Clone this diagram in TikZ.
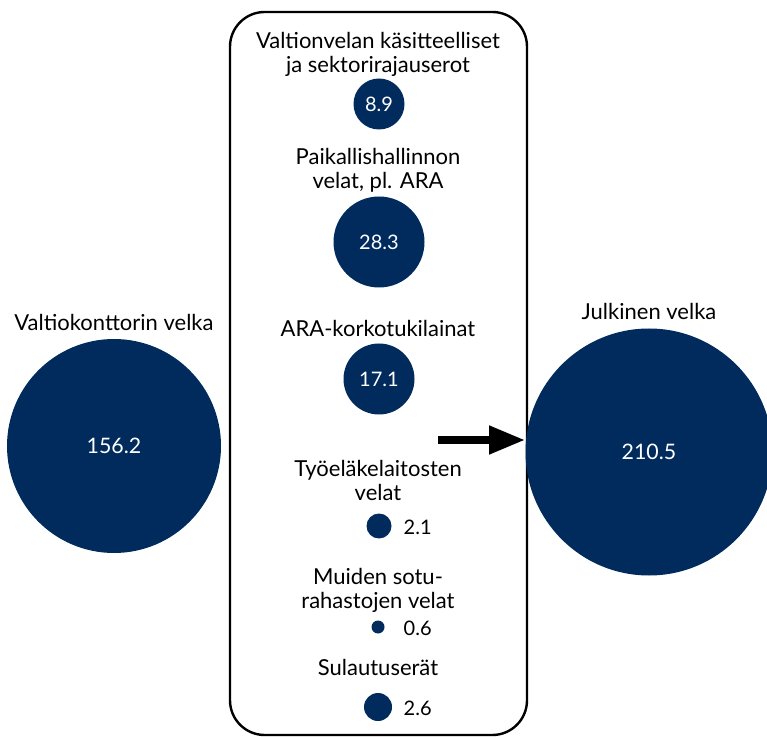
\documentclass[tikz,border=0pt]{standalone}
\usepackage{fontspec}
\setmainfont{Lato}
\usetikzlibrary{arrows.meta}
\definecolor{navy}{RGB}{0,43,92}
\tikzset{
  debt/.style={circle, fill=navy, draw=none, inner sep=0pt, text=white},
  lbl/.style={align=center, font=\fontsize{16.5}{18}\selectfont},
  val/.style={font=\fontsize{15}{16}\selectfont}
}
\begin{document}
\begin{tikzpicture}[x=0.75pt, y=-0.75pt]
  \useasboundingbox (0,0) rectangle (767,737);
  \draw[line width=1.8pt, rounded corners=26pt] (230,12) rectangle (527,735);
  % sides
  \node[debt, minimum size=160.5pt, font=\fontsize{16}{18}\selectfont](vk) at (114,446){156.2};
  \node[lbl](vklbl) at (114,322){Valtiokonttorin velka};
  \node[debt, minimum size=185.25pt, font=\fontsize{16}{18}\selectfont](julk) at (649,452){210.5};
  \node[lbl](julklbl) at (649,311){Julkinen velka};
  % middle column
  \node[lbl](t1) at (378,54){Valtionvelan käsitteelliset\\ja sektorirajauserot};
  \node[debt, minimum size=38.25pt, val](c1) at (379,104){8.9};
  \node[lbl](t2) at (378,170){Paikallishallinnon\\velat, pl. ARA};
  \node[debt, minimum size=68.25pt, val](c2) at (379,242){28.3};
  \node[lbl](t3) at (378,328){ARA-korkotukilainat};
  \node[debt, minimum size=53.25pt, val](c3) at (379,379){17.1};
  \node[lbl](t4) at (378,480){Työeläkelaitosten\\velat};
  \node[debt, minimum size=18.75pt](c4) at (379,526){};
  \node[val, anchor=west](v4) at (399,527){2.1};
  \node[lbl](t5) at (378,590){Muiden sotu-\\rahastojen velat};
  \node[debt, minimum size=9.75pt](c5) at (378,627){};
  \node[val, anchor=west](v5) at (399,628){0.6};
  \node[lbl](t6) at (378,667){Sulautuserät};
  \node[debt, minimum size=21pt](c6) at (378,707){};
  \node[val, anchor=west](v6) at (399,708){2.6};
  \coordinate (tail) at (438,440);
  \draw[line width=6pt, -{Triangle[length=27pt, width=20pt]}] (tail) -- (tail -| julk.west);
\end{tikzpicture}
\end{document}
